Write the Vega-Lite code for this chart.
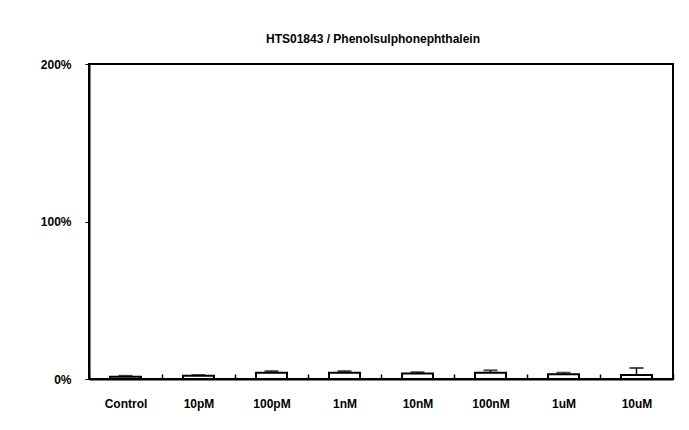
{
  "$schema": "https://vega.github.io/schema/vega-lite/v6.json",
  "autosize": {"type": "none"},
  "width": 584,
  "height": 315,
  "padding": {"left": 89, "top": 64, "right": 16, "bottom": 51},
  "background": "white",
  "title": {"text": "HTS01843 / Phenolsulphonephthalein", "font": "Liberation Sans", "fontSize": 12, "fontWeight": "bold", "color": "black", "offset": 12, "anchor": "middle", "dx": -8},
  "config": {
    "view": {"stroke": "black", "strokeWidth": 2},
    "axis": {"labelFont": "Liberation Sans", "labelFontSize": 12, "labelFontWeight": "bold", "labelColor": "black", "domainColor": "black", "tickColor": "black", "grid": false, "title": null}
  },
  "data": {"values": [
    {"conc": "Control", "value": 0.015, "upper": 0.02},
    {"conc": "10pM", "value": 0.02, "upper": 0.025},
    {"conc": "100pM", "value": 0.04, "upper": 0.05},
    {"conc": "1nM", "value": 0.04, "upper": 0.05},
    {"conc": "10nM", "value": 0.035, "upper": 0.043},
    {"conc": "100nM", "value": 0.04, "upper": 0.055},
    {"conc": "1uM", "value": 0.03, "upper": 0.04},
    {"conc": "10uM", "value": 0.025, "upper": 0.07}
  ]},
  "encoding": {
    "x": {"field": "conc", "type": "nominal", "sort": null,
      "scale": {"paddingInner": 0, "paddingOuter": 0},
      "axis": {"labelAngle": 0, "labelPadding": 24, "tickBand": "extent", "tickSize": -5, "domainWidth": 2, "tickWidth": 1.5}},
    "y": {"field": "value", "type": "quantitative",
      "scale": {"domain": [0, 2]},
      "axis": {"values": [0, 1, 2], "format": ".0%", "labelPadding": 14, "tickSize": 4, "domainWidth": 2}}
  },
  "layer": [
    {"mark": {"type": "bar", "fill": "white", "stroke": "black", "strokeWidth": 2, "width": 31}},
    {"mark": {"type": "rule", "color": "black", "strokeWidth": 1.5},
      "encoding": {"y2": {"field": "upper"}}},
    {"mark": {"type": "tick", "color": "black", "thickness": 2, "size": 14},
      "encoding": {"y": {"field": "upper", "type": "quantitative"}}}
  ]
}
